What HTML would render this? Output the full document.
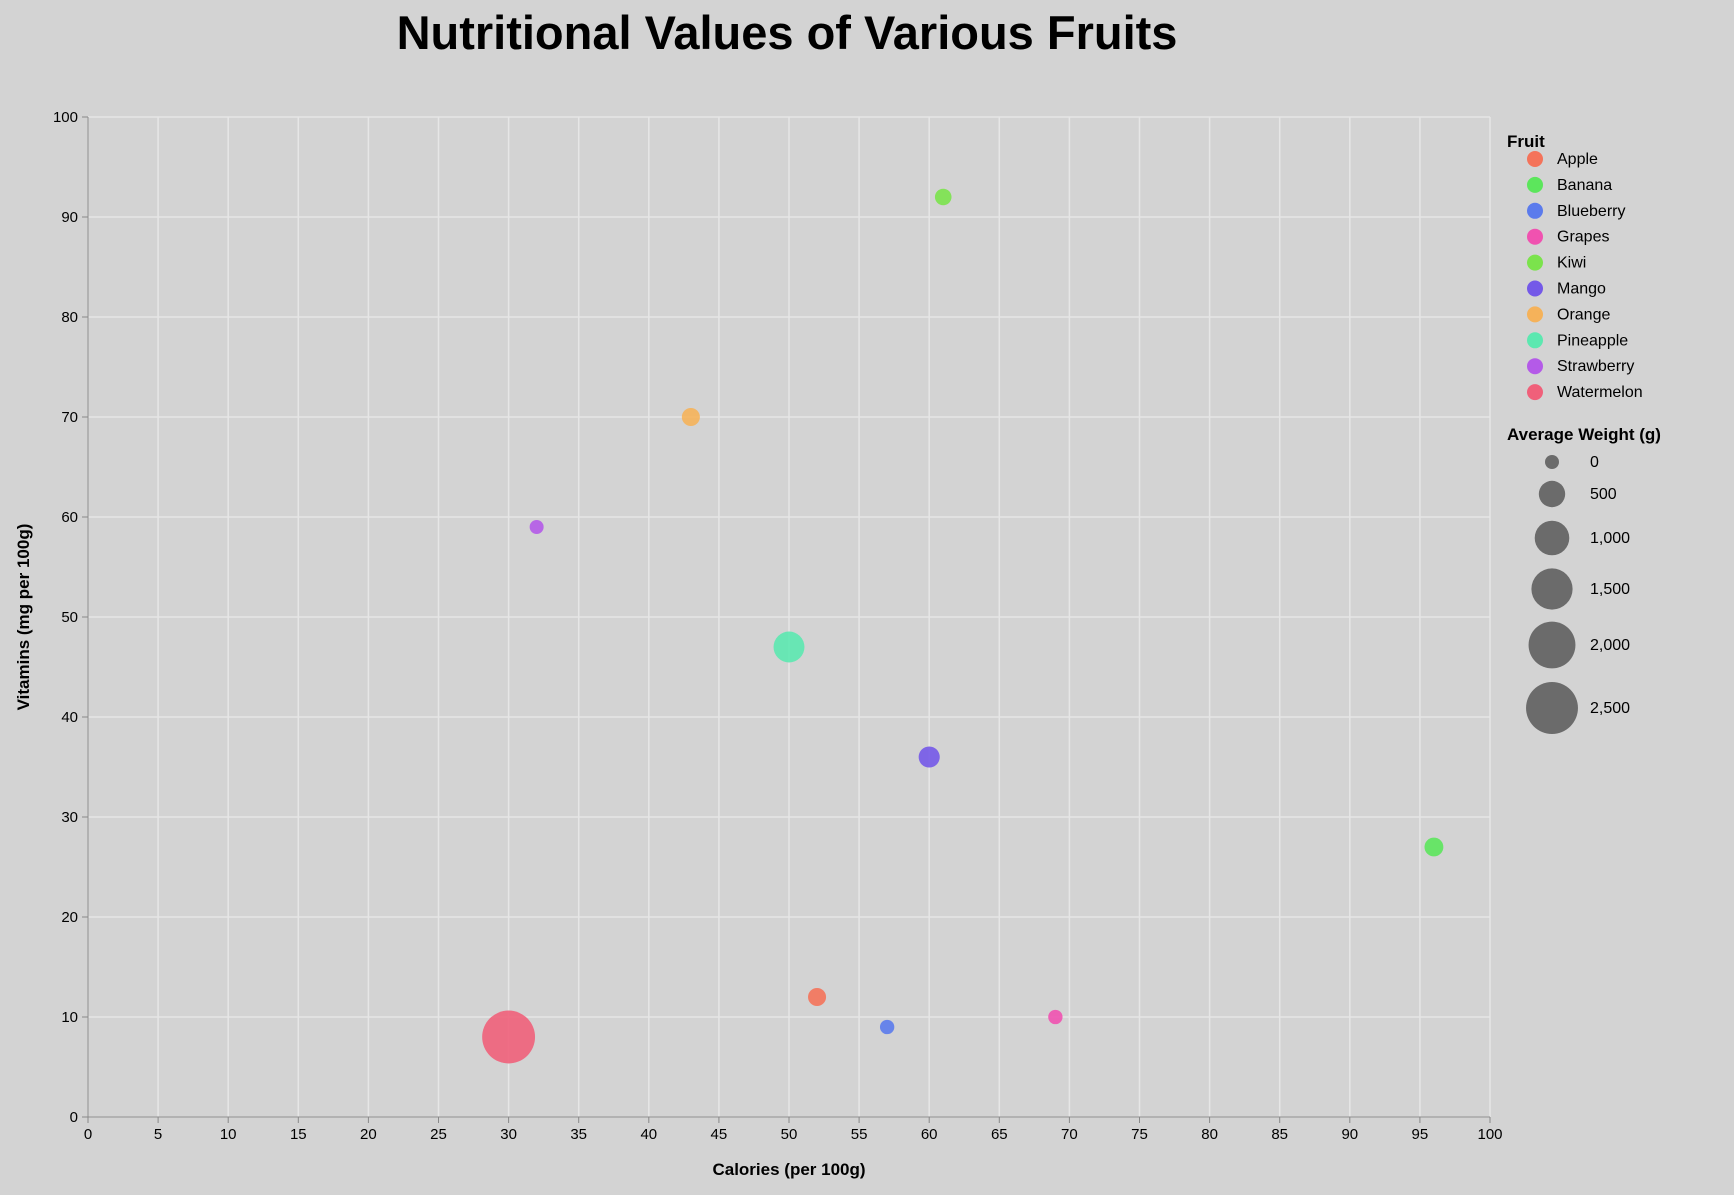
<!DOCTYPE html>
<html><head><meta charset="utf-8"><style>
body{margin:0;background:#d3d3d3;font-family:"Liberation Sans",sans-serif;}
svg text{font-family:"Liberation Sans",sans-serif;}
</style></head><body>
<svg id="chart" width="1734" height="1190" xmlns="http://www.w3.org/2000/svg">
<rect width="1734" height="1190" fill="#d3d3d3"/>
<text x="787" y="49" text-anchor="middle" font-size="47" font-weight="bold" fill="#000">Nutritional Values of Various Fruits</text>
<g id="grid"></g><g id="axes"></g><g id="marks"></g><g id="legend"></g>
</svg>
<script>
const fruits=["Apple","Banana","Blueberry","Grapes","Kiwi","Mango","Orange","Pineapple","Strawberry","Watermelon"];
const calories=[52,96,57,69,61,60,43,50,32,30];
const vitamins=[12,27,9,10,92,36,70,47,59,8];
const weights=[130,160,10,10,80,250,130,760,0,2600];
const colors=["#f4735a","#5ce65c","#5b7bec","#f052b0","#7be34c","#7459e8","#f5b25a","#5ce8b0","#b45ae8","#f0607a"];
const xTicks=[0,5,10,15,20,25,30,35,40,45,50,55,60,65,70,75,80,85,90,95,100];
const yTicks=[0,10,20,30,40,50,60,70,80,90,100];
const sizeTicks=[0,500,1000,1500,2000,2500];
const sizeLabels=["0","500","1,000","1,500","2,000","2,500"];
const NS="http://www.w3.org/2000/svg";
const X0=88,X1=1490,Y0=1117,Y1=117;
const xs=v=>X0+(X1-X0)*v/100;
const ys=v=>Y0-(Y0-Y1)*v/100;
const rs=w=>Math.sqrt(49+0.25*w);
function mk(t,a,p){const e=document.createElementNS(NS,t);for(const k in a)e.setAttribute(k,a[k]);p.appendChild(e);return e;}
const G=document.getElementById('grid'),A=document.getElementById('axes'),M=document.getElementById('marks'),L=document.getElementById('legend');
xTicks.forEach(t=>{const l=mk('line',{x1:xs(t),x2:xs(t),y1:Y1,y2:Y0,stroke:'#e6e6e6','stroke-width':1.5},G);


mk('line',{x1:xs(t),x2:xs(t),y1:Y0,y2:Y0+6,stroke:'#888'},A);
const tx=mk('text',{x:xs(t),y:Y0+22,'text-anchor':'middle','font-size':15,fill:'#000'},A);tx.textContent=t;

});
yTicks.forEach(t=>{const l=mk('line',{x1:X0,x2:X1,y1:ys(t),y2:ys(t),stroke:'#e6e6e6','stroke-width':1.5},G);


mk('line',{x1:X0-6,x2:X0,y1:ys(t),y2:ys(t),stroke:'#888'},A);
const tx=mk('text',{x:X0-10,y:ys(t)+5,'text-anchor':'end','font-size':15,fill:'#000'},A);tx.textContent=t;

});
mk('line',{x1:X0,x2:X1,y1:Y0,y2:Y0,stroke:'#888'},A);
mk('line',{x1:X0,x2:X0,y1:Y1,y2:Y0,stroke:'#888'},A);
let t=mk('text',{x:(X0+X1)/2,y:1175,'text-anchor':'middle','font-size':17,'font-weight':'bold'},A);t.textContent='Calories (per 100g)';


t=mk('text',{x:29,y:(Y0+Y1)/2,'text-anchor':'middle','font-size':17,'font-weight':'bold',transform:`rotate(-90 29 ${(Y0+Y1)/2})`},A);t.textContent='Vitamins (mg per 100g)';


fruits.forEach((f,i)=>{const c=mk('circle',{cx:xs(calories[i]),cy:ys(vitamins[i]),r:rs(weights[i]),fill:colors[i],'fill-opacity':0.9},M);

});
t=mk('text',{x:1507,y:147,'font-size':17,'font-weight':'bold'},L);t.textContent='Fruit';


fruits.forEach((f,i)=>{const y=159+i*25.9;
const c=mk('circle',{cx:1535,cy:y,r:8,fill:colors[i]},L);


const tx=mk('text',{x:1557,y:y+5,'font-size':16},L);tx.textContent=f;

});
t=mk('text',{x:1507,y:440,'font-size':17,'font-weight':'bold'},L);t.textContent='Average Weight (g)';


const sy=[462,494,538,589,645,708];
sizeTicks.forEach((w,i)=>{const c=mk('circle',{cx:1552,cy:sy[i],r:rs(w),fill:'#6b6b6b'},L);


const tx=mk('text',{x:1590,y:sy[i]+5,'font-size':16},L);tx.textContent=sizeLabels[i];

});
</script>
</body></html>
